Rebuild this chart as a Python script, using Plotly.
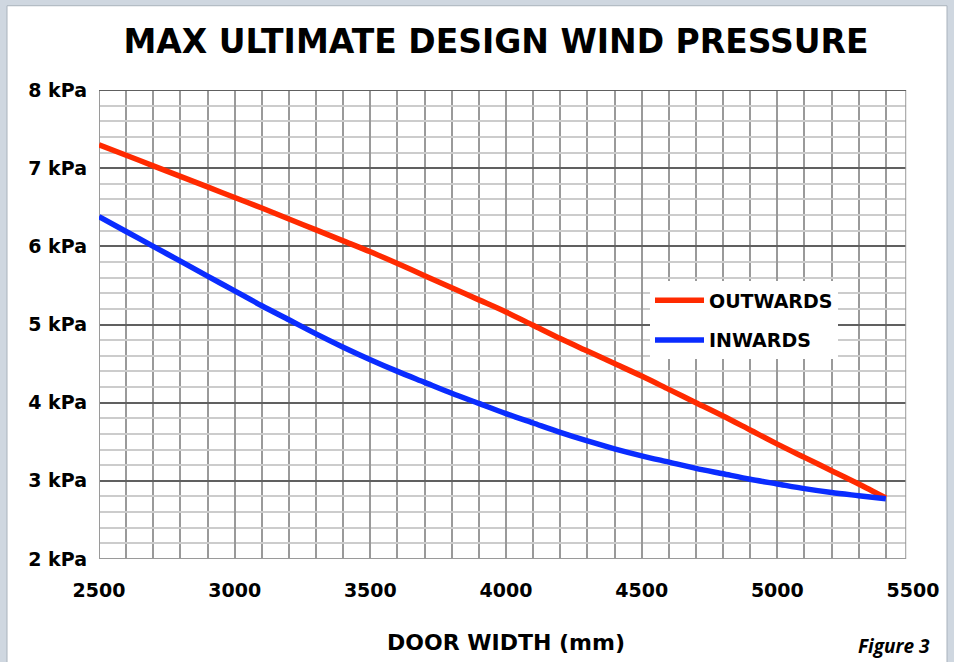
import plotly.graph_objects as go

# ---------------- data ----------------
door_width = [2500, 2600, 2700, 2800, 2900, 3000, 3100, 3200, 3300, 3400,
              3500, 3600, 3700, 3800, 3900, 4000, 4100, 4200, 4300, 4400,
              4500, 4600, 4700, 4800, 4900, 5000, 5100, 5200, 5300, 5400]
outwards_kpa = [7.30, 7.165, 7.03, 6.895, 6.76, 6.625, 6.49, 6.35, 6.21, 6.07,
                5.93, 5.78, 5.625, 5.47, 5.315, 5.16, 4.99, 4.82, 4.66, 4.50,
                4.34, 4.17, 4.00, 3.83, 3.65, 3.47, 3.30, 3.13, 2.96, 2.78]
inwards_kpa = [6.38, 6.19, 6.00, 5.81, 5.62, 5.43, 5.24, 5.06, 4.88, 4.71,
               4.55, 4.40, 4.26, 4.12, 3.99, 3.86, 3.74, 3.62, 3.51, 3.41,
               3.32, 3.24, 3.16, 3.09, 3.02, 2.96, 2.90, 2.85, 2.81, 2.77]
series_names = ["OUTWARDS", "INWARDS"]
x_tick_vals = [2500, 3000, 3500, 4000, 4500, 5000, 5500]
x_tick_text = ["2500", "3000", "3500", "4000", "4500", "5000", "5500"]
y_tick_vals = [2, 3, 4, 5, 6, 7, 8]
y_tick_text = ["2 kPa", "3 kPa", "4 kPa", "5 kPa", "6 kPa", "7 kPa", "8 kPa"]
chart_title = "MAX ULTIMATE DESIGN WIND PRESSURE"
x_title = "DOOR WIDTH (mm)"
figure_label = "Figure 3"

FONT = "DejaVu Sans"
RED = "#ff2a00"
BLUE = "#0a2cff"

fig = go.Figure()
fig.add_trace(go.Scatter(x=door_width, y=outwards_kpa, mode="lines",
                         name=series_names[0], legendgroup="a",
                         line=dict(color=RED, width=5.5, shape="spline", smoothing=0.8)))
fig.add_trace(go.Scatter(x=door_width, y=inwards_kpa, mode="lines",
                         name=series_names[1], legendgroup="b",
                         line=dict(color=BLUE, width=5.5, shape="spline", smoothing=0.8)))

grid_end = 5475  # the graph paper stops a little short of 5500

fig.update_layout(
    width=954, height=662,
    margin=dict(l=99, r=41, t=90, b=99),
    paper_bgcolor="#cfd7e0",
    plot_bgcolor="white",
    font=dict(family=FONT, color="black"),
    title=dict(text=chart_title, x=496 / 954, xanchor="center",
               y=1 - 41 / 662, yanchor="middle", xref="container", yref="container",
               font=dict(family=FONT, size=33, weight="bold", color="black")),
    showlegend=True,
    legend=dict(x=(650 - 99) / 814, y=(563 - 283) / 473, xanchor="left", yanchor="top",
                bgcolor="white", borderwidth=0, itemwidth=49, tracegroupgap=12,
                font=dict(family=FONT, size=19, weight="bold", color="black")),
    xaxis=dict(range=[2500, 5500], tickmode="array", tickvals=x_tick_vals,
               ticktext=x_tick_text, ticks="", ticklabelstandoff=18,
               tickfont=dict(family=FONT, size=19, weight="bold", color="black"),
               showgrid=True, gridcolor="#9a9a9a", gridwidth=2,
               minor=dict(dtick=100, tick0=2500, showgrid=True, gridcolor="#9a9a9a", gridwidth=2),
               showline=False, zeroline=False, fixedrange=True,
               title=dict(text=x_title, standoff=34,
                          font=dict(family=FONT, size=22, weight="bold", color="black"))),
    yaxis=dict(range=[2, 8], tickmode="array", tickvals=y_tick_vals,
               ticktext=y_tick_text, ticks="", ticklabelstandoff=11,
               tickfont=dict(family=FONT, size=19, weight="bold", color="black"),
               showgrid=True, gridcolor="#606060", gridwidth=1.5,
               minor=dict(dtick=0.2, tick0=2, showgrid=True, gridcolor="#cccccc", gridwidth=1.5),
               showline=False, zeroline=False, fixedrange=True),
)

# white page panel behind the chart
px2x = lambda px: (px - 99) / 814
px2y = lambda py: (563 - py) / 473
fig.add_shape(type="rect", xref="paper", yref="paper", layer="below",
              x0=px2x(7), x1=px2x(947), y0=px2y(670), y1=px2y(5),
              fillcolor="white", line=dict(color="#a9b2bc", width=1))
# blank strip to the right of the graph paper
fig.add_shape(type="rect", xref="paper", yref="paper", layer="above",
              x0=(grid_end - 2500) / 3000, x1=1.02, y0=-0.01, y1=1.01,
              fillcolor="white", line=dict(width=0))
# graph paper border
fig.add_shape(type="rect", xref="x", yref="y", layer="between",
              x0=2500, x1=grid_end, y0=2, y1=8,
              fillcolor="rgba(0,0,0,0)", line=dict(color="#9a9a9a", width=2))
# darker top edge of the graph paper
fig.add_shape(type="line", xref="x", yref="y", layer="between",
              x0=2500, x1=grid_end, y0=8, y1=8,
              line=dict(color="#606060", width=2))

fig.add_annotation(text=figure_label, xref="paper", yref="paper",
                   x=px2x(932), y=px2y(651), xanchor="right", yanchor="middle",
                   showarrow=False,
                   font=dict(family="Open Sans", size=19, weight="bold",
                             style="italic", color="black"))

fig.write_html("out.html", config={"displayModeBar": False},
               post_script="document.body.style.margin='0';document.body.style.overflow='hidden';")
